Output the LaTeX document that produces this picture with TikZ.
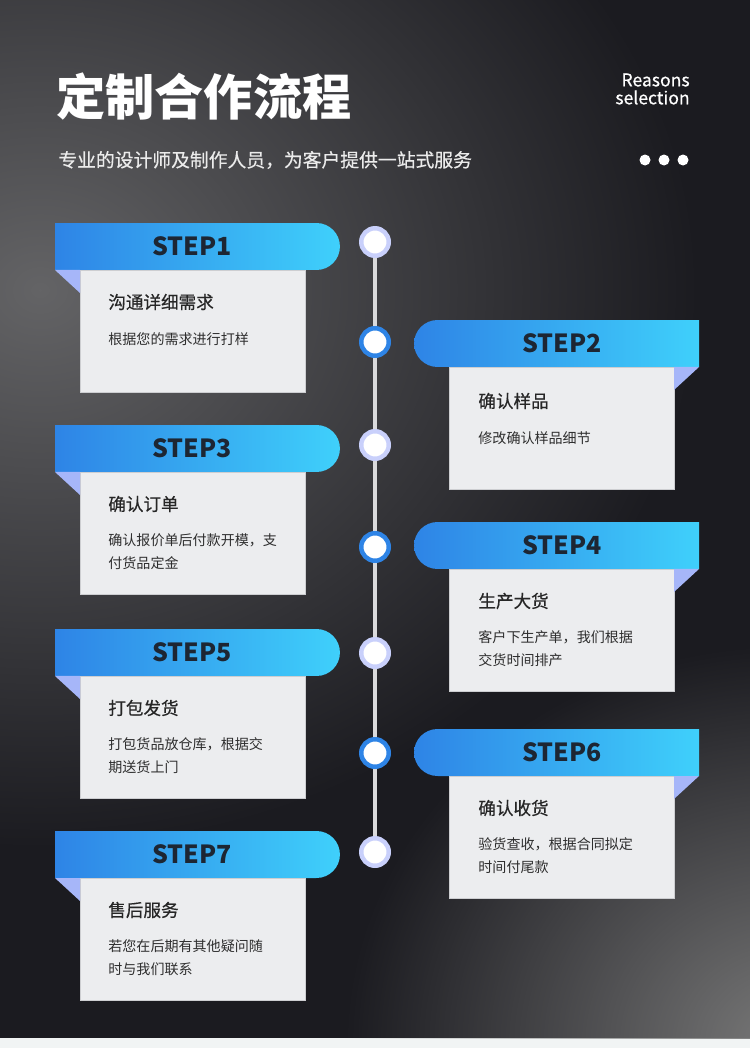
\documentclass[tikz,border=0pt]{standalone}
\usepackage{fontspec}
\setmainfont{Noto Sans CJK SC}
\newfontfamily\mediumfont[FakeBold=0.5]{Noto Sans CJK SC}
\usetikzlibrary{shapes.misc,fadings}

\definecolor{bgdark}{HTML}{1B1B20}
\definecolor{bgglow}{HTML}{646466}
\definecolor{bgglowb}{HTML}{787878}
\definecolor{stripe}{HTML}{F1F4F4}
\definecolor{stepblue}{HTML}{2E84E6}
\definecolor{stepcyan}{HTML}{3FD0FB}
\definecolor{foldblue}{HTML}{A6B6F9}
\definecolor{cardgray}{HTML}{ECEDEF}
\definecolor{cardedge}{HTML}{CDCED1}
\definecolor{stepink}{HTML}{1D2633}
\definecolor{ringlav}{HTML}{C9D0FB}
\definecolor{ringblue}{HTML}{2E84E6}
\definecolor{tlgray}{HTML}{DADADC}

\tikzfading[name=glowfade, inner color=transparent!0, outer color=transparent!100]

\tikzset{
  bannerleft/.style={rounded rectangle, rounded rectangle west arc=none, minimum width=5.7cm, minimum height=0.94cm, inner sep=0pt, outer sep=0pt, left color=stepblue, right color=stepcyan, anchor=north west},
  bannerright/.style={rounded rectangle, rounded rectangle east arc=none, minimum width=5.7cm, minimum height=0.94cm, inner sep=0pt, outer sep=0pt, left color=stepblue, right color=stepcyan, anchor=north east},
  steplabel/.style={font=\fontsize{14.2}{16}\selectfont\bfseries, text=stepink},
  card/.style={rectangle, draw=cardedge, line width=0.4pt, fill=cardgray, minimum width=4.5cm, minimum height=2.44cm, inner sep=0pt, outer sep=0pt},
  cardtitle/.style={anchor=west, inner sep=0pt, font=\fontsize{10}{12}\selectfont\mediumfont, text=black!85},
  cardtext/.style={anchor=north west, inner sep=0pt, align=left, font=\fontsize{8}{13}\selectfont, text=black!82},
  dotlav/.style={circle, draw=ringlav, fill=white, line width=2.55pt, minimum size=0.55cm, inner sep=0pt},
  dotblue/.style={dotlav, draw=ringblue},
  tl/.style={draw=tlgray, line width=2.4pt}
}

\begin{document}
\begin{tikzpicture}[x=0.02cm, y=-0.02cm]

\useasboundingbox (0,0) rectangle (750,1048);

% background
\fill [bgdark] (0,0) rectangle (750,1038);
\fill [stripe] (0,1038) rectangle (750,1048);
\begin{scope}
\clip (0,0) rectangle (750,1038);
\fill [bgglow, path fading=glowfade] (40,290) ellipse (660 and 560);
\fill [bgglowb, path fading=glowfade] (785,1045) ellipse (440 and 400);
\end{scope}

% header
\draw (56,97) node (title) [anchor=west, inner sep=0pt, text=white, font=\fontsize{28}{30}\selectfont\bfseries] {定制合作流程};
\draw (58,160) node (sub) [anchor=west, inner sep=0pt, text=white!92!black, font=\fontsize{10.7}{13}\selectfont\mediumfont] {专业的设计师及制作人员，为客户提供一站式服务};
\draw (690,89) node (reasons) [anchor=east, inner sep=0pt, align=right, text=white, font=\fontsize{10}{10.2}\selectfont\mediumfont] {Reasons\\selection};
\fill [white] (645,160) circle (5.5);
\fill [white] (664,160) circle (5.5);
\fill [white] (683,160) circle (5.5);

% timeline
\draw (375,242) node (d1) [dotlav] {};
\draw (375,342) node (d2) [dotblue] {};
\draw (375,445) node (d3) [dotlav] {};
\draw (375,547) node (d4) [dotblue] {};
\draw (375,653) node (d5) [dotlav] {};
\draw (375,753) node (d6) [dotblue] {};
\draw (375,852) node (d7) [dotlav] {};

\draw [tl] (d1) -- (d2);
\draw [tl] (d2) -- (d3);
\draw [tl] (d3) -- (d4);
\draw [tl] (d4) -- (d5);
\draw [tl] (d5) -- (d6);
\draw [tl] (d6) -- (d7);

% step 1
\draw (55,223) node (s1) [bannerleft] {};
\draw ([xshift=-0.11cm]s1.center) node [steplabel] {STEP1};
\draw (s1.south west) +(25,0) node (c1) [card, anchor=north west] {};
\fill [foldblue] (s1.south west) -- (c1.north west) -- ([yshift=-0.46cm]c1.north west) -- cycle;
\draw (c1.north west) +(28,32) node [cardtitle] {沟通详细需求};
\draw (c1.north west) +(28,62) node [cardtext] {根据您的需求进行打样};

% step 2
\draw (699,320) node (s2) [bannerright] {};
\draw ([xshift=0.11cm]s2.center) node [steplabel] {STEP2};
\draw (s2.south east) +(-25,0) node (c2) [card, anchor=north east] {};
\fill [foldblue] (s2.south east) -- (c2.north east) -- ([yshift=-0.46cm]c2.north east) -- cycle;
\draw (c2.north west) +(29,34) node [cardtitle] {确认样品};
\draw (c2.north west) +(29,64) node [cardtext] {修改确认样品细节};

% step 3
\draw (55,425) node (s3) [bannerleft] {};
\draw ([xshift=-0.11cm]s3.center) node [steplabel] {STEP3};
\draw (s3.south west) +(25,0) node (c3) [card, anchor=north west] {};
\fill [foldblue] (s3.south west) -- (c3.north west) -- ([yshift=-0.46cm]c3.north west) -- cycle;
\draw (c3.north west) +(28,32) node [cardtitle] {确认订单};
\draw (c3.north west) +(28,61) node [cardtext] {确认报价单后付款开模，支\\付货品定金};

% step 4
\draw (699,522) node (s4) [bannerright] {};
\draw ([xshift=0.11cm]s4.center) node [steplabel] {STEP4};
\draw (s4.south east) +(-25,0) node (c4) [card, anchor=north east] {};
\fill [foldblue] (s4.south east) -- (c4.north east) -- ([yshift=-0.46cm]c4.north east) -- cycle;
\draw (c4.north west) +(29,32) node [cardtitle] {生产大货};
\draw (c4.north west) +(29,61) node [cardtext] {客户下生产单，我们根据\\交货时间排产};

% step 5
\draw (55,629) node (s5) [bannerleft] {};
\draw ([xshift=-0.11cm]s5.center) node [steplabel] {STEP5};
\draw (s5.south west) +(25,0) node (c5) [card, anchor=north west] {};
\fill [foldblue] (s5.south west) -- (c5.north west) -- ([yshift=-0.46cm]c5.north west) -- cycle;
\draw (c5.north west) +(28,32) node [cardtitle] {打包发货};
\draw (c5.north west) +(28,61) node [cardtext] {打包货品放仓库，根据交\\期送货上门};

% step 6
\draw (699,729) node (s6) [bannerright] {};
\draw ([xshift=0.11cm]s6.center) node [steplabel] {STEP6};
\draw (s6.south east) +(-25,0) node (c6) [card, anchor=north east] {};
\fill [foldblue] (s6.south east) -- (c6.north east) -- ([yshift=-0.46cm]c6.north east) -- cycle;
\draw (c6.north west) +(29,32) node [cardtitle] {确认收货};
\draw (c6.north west) +(29,61) node [cardtext] {验货查收，根据合同拟定\\时间付尾款};

% step 7
\draw (55,831) node (s7) [bannerleft] {};
\draw ([xshift=-0.11cm]s7.center) node [steplabel] {STEP7};
\draw (s7.south west) +(25,0) node (c7) [card, anchor=north west] {};
\fill [foldblue] (s7.south west) -- (c7.north west) -- ([yshift=-0.46cm]c7.north west) -- cycle;
\draw (c7.north west) +(28,32) node [cardtitle] {售后服务};
\draw (c7.north west) +(28,61) node [cardtext] {若您在后期有其他疑问随\\时与我们联系};

\end{tikzpicture}
\end{document}
